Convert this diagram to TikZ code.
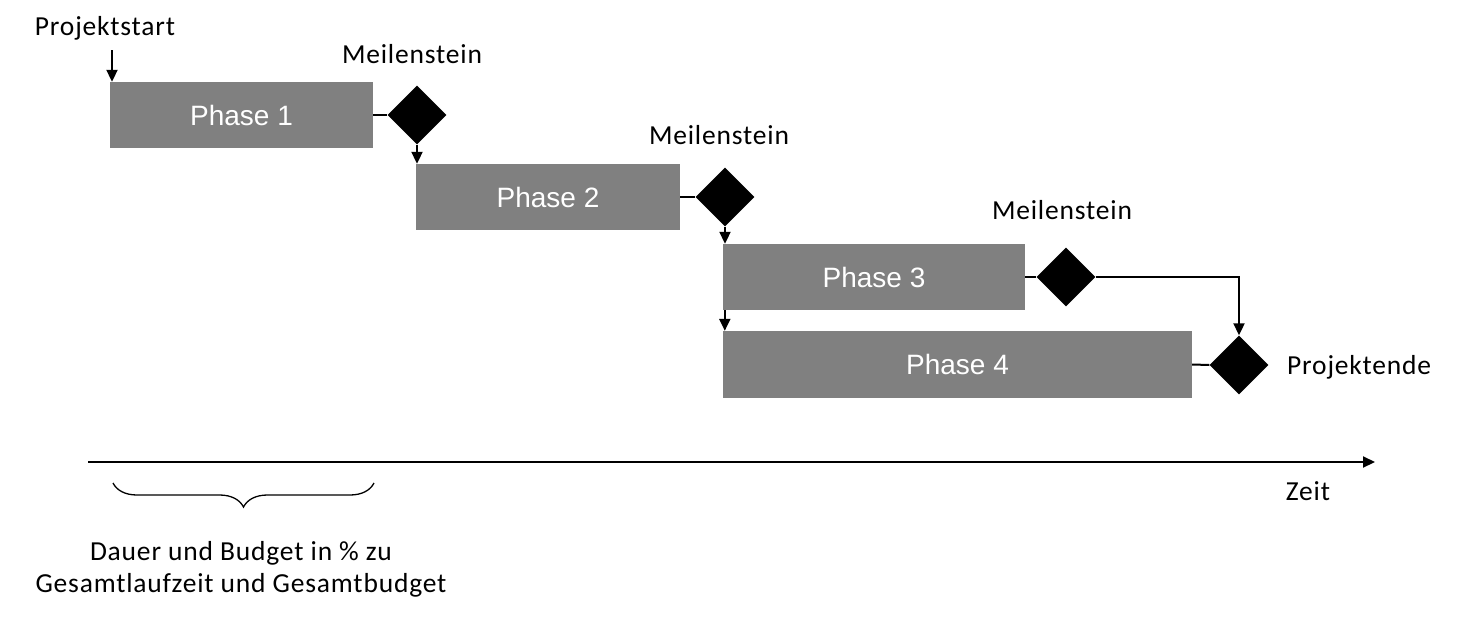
\documentclass[tikz,border=0pt]{standalone}
\usepackage{fontspec}
\setmainfont{Carlito}[LetterSpace=3]
\newfontfamily\phasefont{Liberation Sans}
\usetikzlibrary{shapes.geometric,arrows.meta,decorations.pathreplacing}
\definecolor{phasegray}{RGB}{128,128,128}
\begin{document}
\begin{tikzpicture}[x=1pt,y=-1pt,
  phase/.style={rectangle, fill=phasegray, text=white, inner sep=0pt,
    font=\phasefont\fontsize{28}{34}\selectfont},
  mstone/.style={diamond, fill, inner sep=0pt, minimum width=59pt, minimum height=59pt},
  lbl/.style={font=\fontsize{27.5}{33}\selectfont, anchor=base, inner sep=0pt},
  conn/.style={line width=2pt},
  arr/.style={line width=2pt, -{Triangle[width=11pt,length=12pt]}}]
\useasboundingbox (0,0) rectangle (1458,616);
\node[lbl] (startlbl) at (105,35) {Projektstart};
\coordinate (s0) at (112,50);
\node[phase, minimum width=263pt, minimum height=66pt] (p1) at (241.5,115) {Phase 1};
\node[mstone] (m1) at (417,115) {};
\node[lbl] (m1lbl) at (412,63) {Meilenstein};
\draw[arr] (s0) -- (s0 |- p1.north);
\draw[conn] (p1.east) -- (m1.west);
\node[phase, minimum width=264pt, minimum height=66pt] (p2) at (548,197) {Phase 2};
\node[mstone] (m2) at (725,197) {};
\node[lbl] (m2lbl) at (719,144) {Meilenstein};
\draw[arr] (m1.south) -- (m1.south |- p2.north);
\draw[conn] (p2.east) -- (m2.west);
\node[phase, minimum width=302pt, minimum height=66pt] (p3) at (874,277) {Phase 3};
\node[mstone] (m3) at (1066,277) {};
\node[lbl] (m3lbl) at (1062,219) {Meilenstein};
\draw[arr] (m2.south) -- (m2.south |- p3.north);
\draw[conn] (p3.east) -- (m3.west);
\node[phase, minimum width=469pt, minimum height=67pt] (p4) at (957.5,364.5) {Phase 4};
\node[mstone] (m4) at (1239,365) {};
\node[lbl, anchor=base west] (endlbl) at (1287,374) {Projektende};
\draw[arr] ([xshift=2pt]p3.south west) -- ([xshift=2pt]p4.north west);
\draw[arr] (m3.east) -| (m4.north);
\draw[conn] (p4.east) -- (m4.west);
% Zeitachse
\coordinate (t0) at (88,462);
\coordinate (t1) at (1375,462);
\draw[arr] (t0) -- (t1);
\node[lbl] (zeitlbl) at (1308,500) {Zeit};
\coordinate (b0) at (113,483);
\coordinate (b1) at (374,483);
\draw[line width=1.3pt, decorate, decoration={brace, mirror, amplitude=24pt}] (b0) -- (b1);
\node[lbl] (dauerlbl) at (241,560) {Dauer und Budget in \% zu};
\node[lbl] (gesamtlbl) at (241,592) {Gesamtlaufzeit und Gesamtbudget};
\end{tikzpicture}
\end{document}
